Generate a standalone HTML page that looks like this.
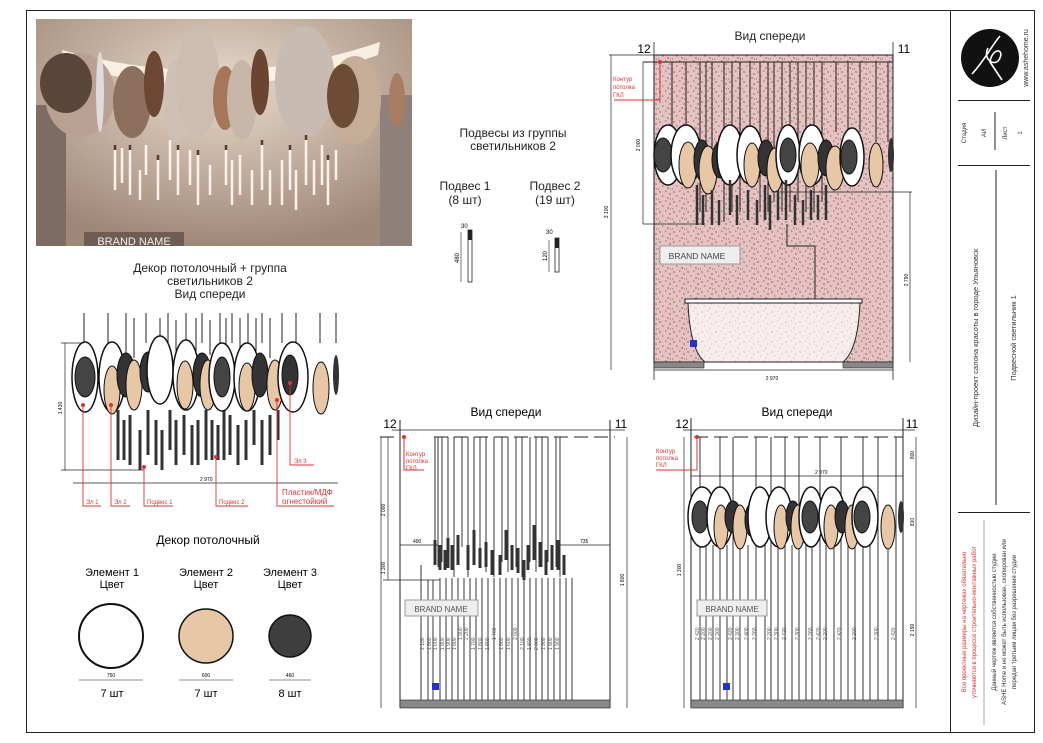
<!DOCTYPE html>
<html><head><meta charset="utf-8"><style>
html,body{margin:0;padding:0;background:#fff;}
svg{display:block;font-family:"Liberation Sans","DejaVu Sans",sans-serif;}
.t{font-family:"Liberation Sans Narrow","Liberation Sans",sans-serif;}
</style></head><body>
<svg width="1043" height="743" viewBox="0 0 1043 743" xmlns="http://www.w3.org/2000/svg">
<defs>
<pattern id="spk" width="14" height="10" patternUnits="userSpaceOnUse">
<rect width="14" height="10" fill="#e6c2c2"/>
<path d="M1 2h2M7 1h1.5M11 4h2M4 6h1.5M9 8h2M0 9h1M12 9h1" stroke="#6b4a4a" stroke-width="0.8"/>
</pattern>
<pattern id="spk2" width="14" height="10" patternUnits="userSpaceOnUse">
<rect width="14" height="10" fill="#f7eded"/>
<path d="M1 2h2M7 1h1M11 4h1.5M4 6h1M9 8h1.5" stroke="#c9a9a9" stroke-width="0.7"/>
</pattern>
<radialGradient id="ph" cx="50%" cy="30%" r="70%"><stop offset="0" stop-color="#e8d9cb"/><stop offset="1" stop-color="#a08878"/></radialGradient>
</defs>

<rect x="26.5" y="10.5" width="1008" height="722" fill="none" stroke="#222" stroke-width="1"/>
<line x1="950.5" y1="10" x2="950.5" y2="733" stroke="#222"/>
<line x1="958" y1="100.5" x2="1030" y2="100.5" stroke="#222"/>
<line x1="958" y1="165.5" x2="1030" y2="165.5" stroke="#222"/>
<line x1="958" y1="512.5" x2="1030" y2="512.5" stroke="#222"/>
<line x1="996" y1="170" x2="996" y2="505" stroke="#222"/>
<line x1="995" y1="112" x2="995" y2="150" stroke="#222"/>
<circle cx="990" cy="58" r="29" fill="#111"/>
<path d="M972 74 C985 60 992 45 1000 36 M988 48 C982 60 996 68 1000 58 C1004 48 992 48 990 62 L1002 80" stroke="#fff" stroke-width="1.6" fill="none"/>
<text class="t" transform="translate(1028,58) rotate(-90)" text-anchor="middle" font-size="7" fill="#333">www.ashehome.ru</text>
<text class="t" transform="translate(966,133) rotate(-90)" text-anchor="middle" font-size="6" fill="#333">Стадия</text>
<text class="t" transform="translate(986,133) rotate(-90)" text-anchor="middle" font-size="6" fill="#333">АИ</text>
<text class="t" transform="translate(1007,133) rotate(-90)" text-anchor="middle" font-size="6" fill="#333">Лист</text>
<text class="t" transform="translate(1022,133) rotate(-90)" text-anchor="middle" font-size="6" fill="#333">1</text>
<text class="t" transform="translate(978,338) rotate(-90)" text-anchor="middle" font-size="7.5" fill="#333">Дизайн-проект салона красоты в городе Ульяновск</text>
<text class="t" transform="translate(1016,338) rotate(-90)" text-anchor="middle" font-size="7.5" fill="#333">Подвесной светильник 1</text>
<text class="t" transform="translate(966,622) rotate(-90)" text-anchor="middle" font-size="6" fill="#d33">Все проектные размеры на чертежах обязательно</text>
<text class="t" transform="translate(976,622) rotate(-90)" text-anchor="middle" font-size="6" fill="#d33">уточняются в процессе строительно-монтажных работ</text>
<line x1="984" y1="520" x2="984" y2="725" stroke="#555" stroke-width="0.5"/>
<text class="t" transform="translate(996,622) rotate(-90)" text-anchor="middle" font-size="6" fill="#333">Данный чертеж является собственностью студии</text>
<text class="t" transform="translate(1006,622) rotate(-90)" text-anchor="middle" font-size="6" fill="#333">ASHE Home и не может быть использован, скопирован или</text>
<text class="t" transform="translate(1016,622) rotate(-90)" text-anchor="middle" font-size="6" fill="#333">передан третьим лицам без разрешения студии</text>

<!-- photo -->
<rect x="36" y="19" width="376" height="227" fill="url(#ph)"/>
<rect x="36" y="105" width="30" height="141" fill="#7d6c62"/>
<rect x="380" y="95" width="32" height="151" fill="#8f8179"/>
<path d="M62 50 Q225 95 380 42 L378 55 Q225 110 64 64Z" fill="#fff6e8" opacity="0.9"/>
<ellipse cx="80" cy="95" rx="35" ry="42" fill="#b9a090"/>
<ellipse cx="66" cy="83" rx="26" ry="30" fill="#5a4638"/>
<ellipse cx="100" cy="92" rx="4" ry="40" fill="#ddd"/>
<ellipse cx="132" cy="102" rx="19" ry="36" fill="#8d6f5d"/>
<ellipse cx="154" cy="84" rx="10" ry="33" fill="#6b4734"/>
<ellipse cx="176" cy="100" rx="12" ry="42" fill="#cfc0b5"/>
<ellipse cx="198" cy="82" rx="22" ry="55" fill="#cdbcb0"/>
<ellipse cx="225" cy="98" rx="12" ry="32" fill="#a6765a"/>
<ellipse cx="242" cy="100" rx="15" ry="40" fill="#c8b6a8"/>
<ellipse cx="260" cy="82" rx="9" ry="33" fill="#6a4632"/>
<ellipse cx="305" cy="82" rx="30" ry="56" fill="#c7bbb2"/>
<ellipse cx="355" cy="100" rx="26" ry="44" fill="#c6ad98"/>
<ellipse cx="343" cy="96" rx="16" ry="32" fill="#6d4c36"/>
<ellipse cx="397" cy="100" rx="8" ry="27" fill="#a97d62"/>
<g stroke="#f8f3ea" stroke-width="2.5">
<path d="M115 150v40M122 148v35M130 150v45M146 145v30M140 170v30M158 160v40M170 140v40M178 150v45M190 150v35M198 155v50M210 165v30M226 150v35M232 160v45M240 155v40M252 170v35M262 145v45M270 170v35M282 160v45M290 150v40M296 170v40M306 140v45M314 160v35M322 145v40M328 160v45M336 150v30"/>
</g>
<g stroke="#5a3b2a" stroke-width="2.5"><path d="M115 145v5M130 145v5M158 155v5M178 145v5M198 150v5M226 145v5M262 140v5M290 145v5M306 135v5M328 155v5"/></g>
<rect x="84" y="232" width="100" height="14" fill="#6f5d54"/>
<text x="134" y="245" text-anchor="middle" font-size="11" fill="#eee">BRAND NAME</text>

<text class="t" x="513" y="137" text-anchor="middle" font-size="12" fill="#222">Подвесы из группы</text>
<text class="t" x="513" y="150" text-anchor="middle" font-size="12" fill="#222">светильников 2</text>
<text class="t" x="465" y="190" text-anchor="middle" font-size="12" fill="#222">Подвес 1</text>
<text class="t" x="465" y="204" text-anchor="middle" font-size="12" fill="#222">(8 шт)</text>
<text class="t" x="555" y="190" text-anchor="middle" font-size="12" fill="#222">Подвес 2</text>
<text class="t" x="555" y="204" text-anchor="middle" font-size="12" fill="#222">(19 шт)</text>
<rect x="468" y="230" width="4" height="52" fill="#fff" stroke="#222" stroke-width="0.8"/>
<rect x="468" y="230" width="4" height="10" fill="#222"/>
<line x1="461" y1="232" x2="461" y2="282" stroke="#222" stroke-width="0.6"/>
<text class="t" transform="translate(459,258) rotate(-90)" font-size="6" text-anchor="middle">480</text>
<text class="t" x="461" y="228" font-size="6">30</text>
<rect x="555" y="238" width="4" height="34" fill="#fff" stroke="#222" stroke-width="0.8"/>
<rect x="555" y="238" width="4" height="10" fill="#222"/>
<line x1="549" y1="240" x2="549" y2="272" stroke="#222" stroke-width="0.6"/>
<text class="t" transform="translate(547,256) rotate(-90)" font-size="6" text-anchor="middle">120</text>
<text class="t" x="546" y="234" font-size="6">30</text>

<text class="t" x="770" y="40" text-anchor="middle" font-size="12" fill="#222">Вид спереди</text>
<text class="t" x="644" y="53" text-anchor="middle" font-size="12">12</text>
<text class="t" x="904" y="53" text-anchor="middle" font-size="12">11</text>
<line x1="654" y1="42" x2="654" y2="380" stroke="#222" stroke-width="0.8"/>
<line x1="893" y1="42" x2="893" y2="380" stroke="#222" stroke-width="0.8"/>
<rect x="654" y="55" width="239" height="307" fill="url(#spk)" stroke="#222"/>
<line x1="609" y1="55" x2="654" y2="55" stroke="#222" stroke-width="0.7"/>
<line x1="611" y1="55" x2="611" y2="370" stroke="#222" stroke-width="0.7"/>
<text class="t" transform="translate(608,212) rotate(-90)" font-size="5" text-anchor="middle">3 100</text>
<line x1="643" y1="62" x2="643" y2="224" stroke="#222" stroke-width="0.7"/>
<text class="t" transform="translate(640,145) rotate(-90)" font-size="5" text-anchor="middle">2 000</text>
<line x1="643" y1="62" x2="893" y2="62" stroke="#222" stroke-width="1"/>
<line x1="643" y1="224" x2="705" y2="224" stroke="#222" stroke-width="0.7"/>
<line x1="654" y1="370" x2="893" y2="370" stroke="#222" stroke-width="0.7"/>
<text class="t" x="772" y="380" font-size="5" text-anchor="middle">2 970</text>
<line x1="910" y1="192" x2="910" y2="362" stroke="#222" stroke-width="0.7"/>
<line x1="780" y1="192" x2="912" y2="192" stroke="#222" stroke-width="0.7"/>
<text class="t" transform="translate(908,280) rotate(-90)" font-size="5" text-anchor="middle">2 790</text>
<path d="M660 62V100H614" stroke="#d33" fill="none"/><circle cx="660" cy="62" r="2" fill="#d33"/>
<text class="t" x="613" y="81" font-size="6" fill="#d33">Контур</text>
<text class="t" x="613" y="89" font-size="6" fill="#d33">потолка</text>
<text class="t" x="613" y="97" font-size="6" fill="#d33">ГКЛ</text>
<g stroke="#222" stroke-width="1" fill="none">
<path d="M672 62v70M686 62v70M700 62v150M706 62v150M712 62v140M724 62v160M732 62v150M740 62v150M750 62v70M760 62v150M768 62v150M774 62v140M782 62v150M790 62v150M798 62v140M806 62v150M814 62v150M822 62v140M836 62v70M848 62v70M860 62v70M876 62v80M888 62v80"/>
</g>
<g>
<ellipse cx="668" cy="155" rx="14" ry="30" fill="#fff" stroke="#111" stroke-width="1.5"/><ellipse cx="663" cy="155" rx="9" ry="17" fill="#444" stroke="#111"/>
<ellipse cx="686" cy="155" rx="15" ry="30" fill="#fff" stroke="#111" stroke-width="1.5"/><ellipse cx="688" cy="165" rx="9" ry="23" fill="#e8c7a6" stroke="#111"/>
<ellipse cx="702" cy="160" rx="8" ry="20" fill="#333" stroke="#111"/><ellipse cx="708" cy="170" rx="9" ry="24" fill="#e8c7a6" stroke="#111"/>
<ellipse cx="720" cy="160" rx="8" ry="18" fill="#333" stroke="#111"/>
<ellipse cx="730" cy="155" rx="13" ry="30" fill="#fff" stroke="#111" stroke-width="1.5"/>
<ellipse cx="750" cy="155" rx="13" ry="29" fill="#fff" stroke="#111" stroke-width="1.5"/><ellipse cx="752" cy="165" rx="8" ry="22" fill="#e8c7a6" stroke="#111"/>
<ellipse cx="766" cy="158" rx="8" ry="18" fill="#333" stroke="#111"/><ellipse cx="775" cy="170" rx="8" ry="22" fill="#e8c7a6" stroke="#111"/>
<ellipse cx="788" cy="155" rx="12" ry="30" fill="#fff" stroke="#111" stroke-width="1.5"/><ellipse cx="788" cy="155" rx="8" ry="17" fill="#444" stroke="#111"/>
<ellipse cx="812" cy="155" rx="13" ry="30" fill="#fff" stroke="#111" stroke-width="1.5"/><ellipse cx="810" cy="165" rx="9" ry="22" fill="#e8c7a6" stroke="#111"/>
<ellipse cx="826" cy="158" rx="8" ry="18" fill="#333" stroke="#111"/><ellipse cx="835" cy="168" rx="9" ry="22" fill="#e8c7a6" stroke="#111"/>
<ellipse cx="852" cy="157" rx="12" ry="29" fill="#fff" stroke="#111" stroke-width="1.5"/><ellipse cx="849" cy="157" rx="8" ry="17" fill="#444" stroke="#111"/>
<ellipse cx="876" cy="165" rx="7" ry="22" fill="#e8c7a6" stroke="#111"/><ellipse cx="891" cy="155" rx="3" ry="17" fill="#333"/>
</g>
<g stroke="#333" stroke-width="2.5">
<path d="M697 185v40M703 195v30M712 190v35M719 200v25M730 180v35M737 195v30M748 190v30M757 200v25M765 185v35M770 195v35M778 190v30M786 180v40M795 195v30M803 200v25M811 190v30M818 195v25M826 185v35"/>
</g>
<rect x="660" y="246" width="80" height="18" fill="#eee" stroke="#999"/>
<text x="697" y="259" text-anchor="middle" font-size="8.5" fill="#444">BRAND NAME</text>
<path d="M787 224v22h28v55" stroke="#222" fill="none"/>
<rect x="685" y="299" width="177" height="4" fill="#fff" stroke="#222"/>
<path d="M688 303 Q690 350 705 362 H843 Q858 350 860 303Z" fill="url(#spk2)" stroke="#222"/>
<rect x="654" y="362" width="50" height="6" fill="#888" stroke="#222" stroke-width="0.6"/>
<rect x="843" y="362" width="50" height="6" fill="#888" stroke="#222" stroke-width="0.6"/>
<rect x="690" y="340" width="7" height="7" fill="#2233cc"/>

<text class="t" x="210" y="272" text-anchor="middle" font-size="12" fill="#222">Декор потолочный + группа</text>
<text class="t" x="210" y="285" text-anchor="middle" font-size="12" fill="#222">светильников 2</text>
<text class="t" x="210" y="298" text-anchor="middle" font-size="12" fill="#222">Вид спереди</text>
<g stroke="#222" stroke-width="1">
<path d="M84 313v30M108 313v30M126 313v45M134 318v40M146 313v30M160 318v40M168 313v30M176 320v40M186 313v30M196 318v40M202 313v30M210 320v35M220 313v30M226 318v40M232 313v30M240 318v40M248 313v30M256 318v40M262 313v30M270 318v40M282 313v30M296 313v30M320 313v30M336 313v30"/>
</g>
<g stroke="#333" stroke-width="3">
<path d="M118 410v50M124 420v40M130 415v50M140 430v40M148 410v45M156 420v45M162 430v40M170 410v40M176 420v45M184 415v40M192 425v40M198 420v45M206 410v50M212 420v40M218 425v35M224 410v50M230 415v40M238 425v40M246 420v40M254 410v35M262 420v45M270 415v40M278 410v30"/>
</g>
<g>
<ellipse cx="85" cy="377" rx="13" ry="35" fill="#fff" stroke="#111" stroke-width="1.5"/><ellipse cx="85" cy="377" rx="10" ry="20" fill="#444" stroke="#111"/>
<ellipse cx="112" cy="377" rx="13" ry="35" fill="#fff" stroke="#111" stroke-width="1.5"/><ellipse cx="112" cy="390" rx="8" ry="24" fill="#e8c7a6" stroke="#111"/>
<ellipse cx="126" cy="375" rx="9" ry="22" fill="#333" stroke="#111"/><ellipse cx="134" cy="385" rx="8" ry="25" fill="#e8c7a6" stroke="#111"/>
<ellipse cx="148" cy="372" rx="8" ry="20" fill="#333" stroke="#111"/><ellipse cx="160" cy="370" rx="13" ry="34" fill="#fff" stroke="#111" stroke-width="1.5"/>
<ellipse cx="186" cy="375" rx="13" ry="35" fill="#fff" stroke="#111" stroke-width="1.5"/><ellipse cx="185" cy="385" rx="8" ry="24" fill="#e8c7a6" stroke="#111"/>
<ellipse cx="202" cy="375" rx="9" ry="22" fill="#333" stroke="#111"/><ellipse cx="208" cy="385" rx="8" ry="25" fill="#e8c7a6" stroke="#111"/>
<ellipse cx="222" cy="377" rx="13" ry="34" fill="#fff" stroke="#111" stroke-width="1.5"/><ellipse cx="222" cy="377" rx="8" ry="20" fill="#444" stroke="#111"/>
<ellipse cx="247" cy="377" rx="13" ry="34" fill="#fff" stroke="#111" stroke-width="1.5"/><ellipse cx="247" cy="387" rx="8" ry="24" fill="#e8c7a6" stroke="#111"/>
<ellipse cx="260" cy="375" rx="8" ry="22" fill="#333" stroke="#111"/><ellipse cx="275" cy="385" rx="8" ry="25" fill="#e8c7a6" stroke="#111"/>
<ellipse cx="293" cy="377" rx="15" ry="35" fill="#fff" stroke="#111" stroke-width="1.5"/><ellipse cx="290" cy="375" rx="8" ry="20" fill="#333" stroke="#111"/>
<ellipse cx="321" cy="388" rx="8" ry="26" fill="#e8c7a6" stroke="#111"/><ellipse cx="336" cy="375" rx="3" ry="20" fill="#333"/>
</g>
<line x1="65" y1="343" x2="65" y2="470" stroke="#222" stroke-width="0.7"/>
<line x1="61" y1="343" x2="84" y2="343" stroke="#222" stroke-width="0.7"/>
<line x1="61" y1="470" x2="144" y2="470" stroke="#222" stroke-width="0.7"/>
<text class="t" transform="translate(62,408) rotate(-90)" font-size="5" text-anchor="middle">1 430</text>
<line x1="73" y1="483" x2="338" y2="483" stroke="#222" stroke-width="0.7"/>
<text class="t" x="200" y="481" font-size="5">2 970</text>
<g stroke="#d33" fill="none" stroke-width="0.9">
<path d="M83 405V506H101"/><path d="M111 405V506H130"/><path d="M144 467V506H173"/><path d="M216 457V506H248"/><path d="M277 400V506H334"/><path d="M290 383V465H314"/>
</g>
<g fill="#d33"><circle cx="83" cy="405" r="2"/><circle cx="111" cy="405" r="2"/><circle cx="144" cy="467" r="2"/><circle cx="216" cy="457" r="2"/><circle cx="277" cy="400" r="2"/><circle cx="290" cy="383" r="2"/></g>
<g class="t" font-size="6" fill="#d33"><text x="86" y="504">Эл 1</text><text x="114" y="504">Эл 2</text><text x="147" y="504">Подвес 1</text><text x="219" y="504">Подвес 2</text><text x="294" y="463">Эл 3</text></g>
<text class="t" x="282" y="495" font-size="8" fill="#d33">Пластик/МДФ</text>
<text class="t" x="282" y="504" font-size="8" fill="#d33">огнестойкий</text>

<text class="t" x="208" y="544" text-anchor="middle" font-size="12">Декор потолочный</text>
<g class="t" font-size="11" text-anchor="middle">
<text x="112" y="576">Элемент 1</text><text x="112" y="588">Цвет</text>
<text x="206" y="576">Элемент 2</text><text x="206" y="588">Цвет</text>
<text x="290" y="576">Элемент 3</text><text x="290" y="588">Цвет</text>
<text x="112" y="697">7 шт</text><text x="206" y="697">7 шт</text><text x="290" y="697">8 шт</text>
</g>
<circle cx="111" cy="636" r="32" fill="#fff" stroke="#111" stroke-width="2"/>
<circle cx="206" cy="636" r="27" fill="#e8c7a6" stroke="#111" stroke-width="1.5"/>
<circle cx="290" cy="636" r="21" fill="#3e3e3e" stroke="#111" stroke-width="1.5"/>
<g stroke="#222" stroke-width="0.6"><line x1="79" y1="680" x2="143" y2="680"/><line x1="179" y1="680" x2="233" y2="680"/><line x1="269" y1="680" x2="311" y2="680"/></g>
<g class="t" font-size="5" text-anchor="middle"><text x="111" y="677">750</text><text x="206" y="677">600</text><text x="290" y="677">460</text></g>

<text class="t" x="506" y="416" text-anchor="middle" font-size="12">Вид спереди</text>
<text class="t" x="390" y="428" text-anchor="middle" font-size="12">12</text>
<text class="t" x="621" y="428" text-anchor="middle" font-size="12">11</text>
<line x1="400" y1="420" x2="400" y2="708" stroke="#222"/>
<line x1="610" y1="420" x2="610" y2="708" stroke="#222"/>
<line x1="392" y1="430" x2="625" y2="430" stroke="#222" stroke-width="0.8"/>
<path d="M380 437H400M434 437H615" stroke="#222" stroke-dasharray="14 6"/>
<line x1="381" y1="437" x2="381" y2="708" stroke="#222" stroke-width="0.7"/>
<line x1="627" y1="437" x2="627" y2="708" stroke="#222" stroke-width="0.7"/>
<line x1="388" y1="437" x2="388" y2="580" stroke="#222" stroke-width="0.7"/>
<text class="t" transform="translate(385,510) rotate(-90)" font-size="5" text-anchor="middle">2 000</text>
<text class="t" transform="translate(385,568) rotate(-90)" font-size="5" text-anchor="middle">1 300</text>
<text class="t" transform="translate(624,580) rotate(-90)" font-size="5" text-anchor="middle">1 800</text>
<path d="M404 437V470H424" stroke="#d33" fill="none"/><circle cx="404" cy="437" r="2" fill="#d33"/>
<g class="t" font-size="6" fill="#d33"><text x="406" y="456">Контур</text><text x="406" y="463">потолка</text><text x="406" y="470">ГКЛ</text></g>
<line x1="400" y1="545" x2="438" y2="545" stroke="#222" stroke-width="0.7"/><text class="t" x="413" y="543" font-size="5">490</text>
<line x1="560" y1="545" x2="610" y2="545" stroke="#222" stroke-width="0.7"/><text class="t" x="580" y="543" font-size="5">735</text>
<line x1="383" y1="580" x2="440" y2="580" stroke="#222" stroke-width="0.7"/>
<g stroke="#222" stroke-width="0.9">
<path d="M435 437v108M438 437v130M442 437v125M448 437v120M454 437v140M462 437v110M468 437v140M474 437v120M480 437v130M486 437v135M494 437v140M502 437v125M508 437v135M516 437v130M522 437v140M530 437v125M536 437v135M542 437v130M548 437v125M556 437v130M560 437v140"/>
<path d="M421 565v143M428 580v128M433 580v128M440 578v130M446 578v130M452 578v130M458 578v130M464 578v130M470 578v130M476 578v130M482 578v130M488 578v130M494 578v130M500 578v130M506 578v130M512 578v130M518 578v130M524 578v130M530 578v130M536 578v130M542 578v130M548 578v130M554 578v130M560 578v130M566 578v130M572 578v130"/>
</g>
<g stroke="#333" stroke-width="3">
<path d="M435 540v25M440 545v25M445 550v20M448 538v30M452 545v25M458 535v30M468 545v25M474 530v35M480 548v20M486 542v25M492 550v25M500 555v20M506 530v30M512 545v25M518 548v25M524 560v20M528 545v25M534 525v35M540 542v25M546 550v25M552 545v25M558 540v30M564 555v20"/>
</g>
<rect x="405" y="600" width="73" height="16" fill="#eee" stroke="#999"/>
<text x="441" y="612" text-anchor="middle" font-size="8" fill="#555">BRAND NAME</text>
<g class="t" font-size="5" fill="#555">
<text transform="translate(424,650) rotate(-90)">2 100</text><text transform="translate(431,650) rotate(-90)">1 800</text><text transform="translate(437,650) rotate(-90)">1 600</text><text transform="translate(444,650) rotate(-90)">1 800</text><text transform="translate(450,650) rotate(-90)">1 900</text><text transform="translate(456,650) rotate(-90)">1 800</text><text transform="translate(462,640) rotate(-90)">1 900</text><text transform="translate(468,640) rotate(-90)">2 200</text><text transform="translate(475,650) rotate(-90)">1 700</text><text transform="translate(482,650) rotate(-90)">1 800</text><text transform="translate(489,650) rotate(-90)">1 800</text><text transform="translate(496,640) rotate(-90)">1 700</text><text transform="translate(503,650) rotate(-90)">1 800</text><text transform="translate(510,650) rotate(-90)">1 600</text><text transform="translate(517,640) rotate(-90)">2 000</text><text transform="translate(524,650) rotate(-90)">2 100</text><text transform="translate(531,650) rotate(-90)">1 800</text><text transform="translate(538,650) rotate(-90)">2 000</text><text transform="translate(545,650) rotate(-90)">1 900</text><text transform="translate(552,650) rotate(-90)">1 800</text><text transform="translate(559,650) rotate(-90)">1 900</text>
</g>
<rect x="400" y="700" width="210" height="8" fill="#888" stroke="#222" stroke-width="0.6"/>
<rect x="432" y="683" width="7" height="7" fill="#2233cc"/>

<text class="t" x="797" y="416" text-anchor="middle" font-size="12">Вид спереди</text>
<text class="t" x="682" y="428" text-anchor="middle" font-size="12">12</text>
<text class="t" x="912" y="428" text-anchor="middle" font-size="12">11</text>
<line x1="691" y1="418" x2="691" y2="708" stroke="#222"/>
<line x1="903" y1="418" x2="903" y2="708" stroke="#222"/>
<line x1="683" y1="430" x2="915" y2="430" stroke="#222" stroke-width="0.8"/>
<path d="M694 437H903" stroke="#222" stroke-dasharray="14 6"/>
<line x1="684" y1="437" x2="684" y2="708" stroke="#222" stroke-width="0.7"/>
<line x1="916" y1="437" x2="916" y2="708" stroke="#222" stroke-width="0.7"/>
<line x1="691" y1="476" x2="903" y2="476" stroke="#222" stroke-width="0.8"/>
<text class="t" x="815" y="474" font-size="5">2 970</text>
<text class="t" transform="translate(681,570) rotate(-90)" font-size="5" text-anchor="middle">1 300</text>
<text class="t" transform="translate(914,455) rotate(-90)" font-size="5" text-anchor="middle">800</text>
<text class="t" transform="translate(914,522) rotate(-90)" font-size="5" text-anchor="middle">810</text>
<text class="t" transform="translate(914,630) rotate(-90)" font-size="5" text-anchor="middle">2 190</text>
<path d="M697 437V470H656" stroke="#d33" fill="none"/><circle cx="697" cy="437" r="2" fill="#d33"/>
<g class="t" font-size="6" fill="#d33"><text x="656" y="453">Контур</text><text x="656" y="460">потолка</text><text x="656" y="467">ГКЛ</text></g>
<g stroke="#222" stroke-width="0.9">
<path d="M700 437v271M706 545v163M713 545v163M720 437v271M727 545v163M733 437v271M740 545v163M748 545v163M756 437v271M765 545v163M771 437v271M778 545v163M785 437v271M792 545v163M799 437v271M806 545v163M812 545v163M820 437v271M826 545v163M834 545v163M841 437v271M848 545v163M855 545v163M863 437v271M870 545v163M878 437v271M888 545v163M896 437v271"/>
</g>
<g>
<ellipse cx="702" cy="517" rx="14" ry="30" fill="#fff" stroke="#111" stroke-width="1.5"/><ellipse cx="700" cy="517" rx="8" ry="16" fill="#444" stroke="#111"/>
<ellipse cx="720" cy="517" rx="13" ry="30" fill="#fff" stroke="#111" stroke-width="1.5"/><ellipse cx="721" cy="527" rx="7" ry="22" fill="#e8c7a6" stroke="#111"/>
<ellipse cx="733" cy="517" rx="8" ry="16" fill="#333" stroke="#111"/><ellipse cx="740" cy="527" rx="7" ry="22" fill="#e8c7a6" stroke="#111"/>
<ellipse cx="751" cy="520" rx="6" ry="16" fill="#333" stroke="#111"/><ellipse cx="760" cy="517" rx="12" ry="30" fill="#fff" stroke="#111" stroke-width="1.5"/>
<ellipse cx="779" cy="517" rx="13" ry="30" fill="#fff" stroke="#111" stroke-width="1.5"/><ellipse cx="781" cy="527" rx="7" ry="22" fill="#e8c7a6" stroke="#111"/>
<ellipse cx="793" cy="517" rx="7" ry="16" fill="#333" stroke="#111"/><ellipse cx="798" cy="527" rx="7" ry="22" fill="#e8c7a6" stroke="#111"/>
<ellipse cx="811" cy="517" rx="12" ry="30" fill="#fff" stroke="#111" stroke-width="1.5"/><ellipse cx="810" cy="517" rx="8" ry="16" fill="#444" stroke="#111"/>
<ellipse cx="832" cy="517" rx="13" ry="30" fill="#fff" stroke="#111" stroke-width="1.5"/><ellipse cx="831" cy="527" rx="7" ry="22" fill="#e8c7a6" stroke="#111"/>
<ellipse cx="842" cy="517" rx="7" ry="16" fill="#333" stroke="#111"/><ellipse cx="852" cy="527" rx="7" ry="22" fill="#e8c7a6" stroke="#111"/>
<ellipse cx="865" cy="517" rx="13" ry="30" fill="#fff" stroke="#111" stroke-width="1.5"/><ellipse cx="862" cy="517" rx="8" ry="16" fill="#444" stroke="#111"/>
<ellipse cx="888" cy="527" rx="7" ry="22" fill="#e8c7a6" stroke="#111"/><ellipse cx="901" cy="517" rx="3" ry="16" fill="#333"/>
</g>
<rect x="697" y="600" width="70" height="16" fill="#eee" stroke="#999"/>
<text x="732" y="612" text-anchor="middle" font-size="8" fill="#555">BRAND NAME</text>
<g class="t" font-size="5" fill="#555">
<text transform="translate(699,640) rotate(-90)">2 420</text><text transform="translate(705,640) rotate(-90)">2 200</text><text transform="translate(712,640) rotate(-90)">2 200</text><text transform="translate(719,640) rotate(-90)">2 300</text><text transform="translate(732,640) rotate(-90)">2 420</text><text transform="translate(739,640) rotate(-90)">2 300</text><text transform="translate(748,640) rotate(-90)">2 400</text><text transform="translate(756,640) rotate(-90)">2 260</text><text transform="translate(771,640) rotate(-90)">2 200</text><text transform="translate(778,640) rotate(-90)">2 300</text><text transform="translate(786,640) rotate(-90)">2 420</text><text transform="translate(799,640) rotate(-90)">2 300</text><text transform="translate(812,640) rotate(-90)">2 260</text><text transform="translate(820,640) rotate(-90)">2 420</text><text transform="translate(827,640) rotate(-90)">2 200</text><text transform="translate(841,640) rotate(-90)">2 420</text><text transform="translate(856,640) rotate(-90)">2 200</text><text transform="translate(878,640) rotate(-90)">2 300</text><text transform="translate(895,640) rotate(-90)">2 420</text>
</g>
<rect x="691" y="700" width="212" height="8" fill="#888" stroke="#222" stroke-width="0.6"/>
<rect x="723" y="683" width="7" height="7" fill="#2233cc"/>
</svg>
</body></html>
